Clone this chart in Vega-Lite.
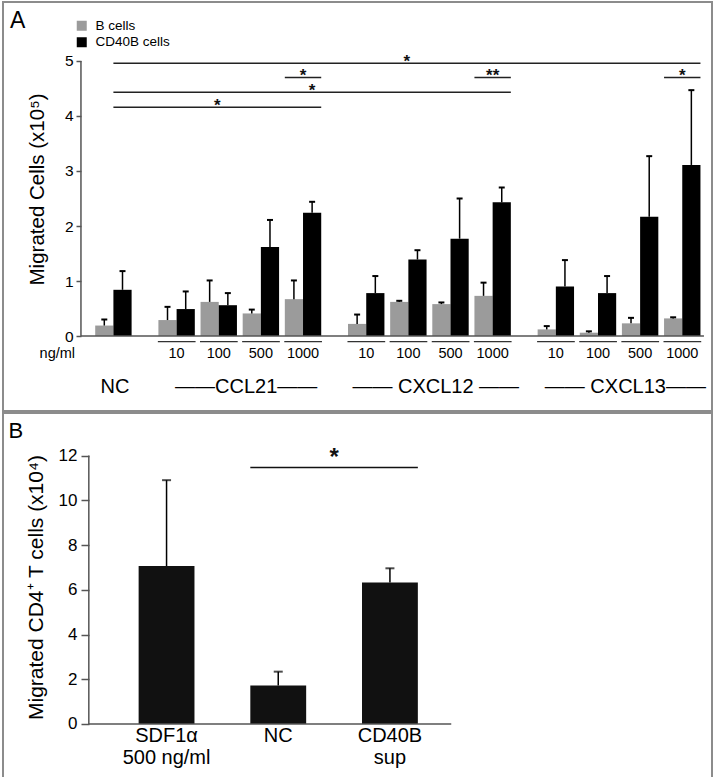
{
  "$schema": "https://vega.github.io/schema/vega-lite/v6.json",
  "background": "white",
  "padding": {"left": 2, "top": 1, "right": 0, "bottom": 0},
  "spacing": 0,
  "config": {
    "font": "Liberation Sans",
    "view": {"stroke": "#8c8c8c", "strokeWidth": 2},
    "axis": {"labelColor": "#000", "titleColor": "#000", "tickColor": "#555", "tickWidth": 1.5, "titleFontWeight": "normal", "grid": false, "domain": false}
  },
  "datasets": {
    "bars": [
      {"condition": "NC", "cells": "B cells", "mean": 0.19, "upper": 0.30, "conc": ""},
      {"condition": "NC", "cells": "CD40B cells", "mean": 0.84, "upper": 1.18, "conc": ""},
      {"condition": "CCL21 10", "cells": "B cells", "mean": 0.29, "upper": 0.53, "conc": "10"},
      {"condition": "CCL21 10", "cells": "CD40B cells", "mean": 0.49, "upper": 0.81, "conc": "10"},
      {"condition": "CCL21 100", "cells": "B cells", "mean": 0.62, "upper": 1.01, "conc": "100"},
      {"condition": "CCL21 100", "cells": "CD40B cells", "mean": 0.56, "upper": 0.78, "conc": "100"},
      {"condition": "CCL21 500", "cells": "B cells", "mean": 0.41, "upper": 0.48, "conc": "500"},
      {"condition": "CCL21 500", "cells": "CD40B cells", "mean": 1.62, "upper": 2.11, "conc": "500"},
      {"condition": "CCL21 1000", "cells": "B cells", "mean": 0.67, "upper": 1.01, "conc": "1000"},
      {"condition": "CCL21 1000", "cells": "CD40B cells", "mean": 2.24, "upper": 2.44, "conc": "1000"},
      {"condition": "CXCL12 10", "cells": "B cells", "mean": 0.22, "upper": 0.39, "conc": "10"},
      {"condition": "CXCL12 10", "cells": "CD40B cells", "mean": 0.78, "upper": 1.09, "conc": "10"},
      {"condition": "CXCL12 100", "cells": "B cells", "mean": 0.62, "upper": 0.64, "conc": "100"},
      {"condition": "CXCL12 100", "cells": "CD40B cells", "mean": 1.39, "upper": 1.56, "conc": "100"},
      {"condition": "CXCL12 500", "cells": "B cells", "mean": 0.58, "upper": 0.61, "conc": "500"},
      {"condition": "CXCL12 500", "cells": "CD40B cells", "mean": 1.77, "upper": 2.50, "conc": "500"},
      {"condition": "CXCL12 1000", "cells": "B cells", "mean": 0.73, "upper": 0.97, "conc": "1000"},
      {"condition": "CXCL12 1000", "cells": "CD40B cells", "mean": 2.43, "upper": 2.70, "conc": "1000"},
      {"condition": "CXCL13 10", "cells": "B cells", "mean": 0.12, "upper": 0.18, "conc": "10"},
      {"condition": "CXCL13 10", "cells": "CD40B cells", "mean": 0.90, "upper": 1.38, "conc": "10"},
      {"condition": "CXCL13 100", "cells": "B cells", "mean": 0.06, "upper": 0.085, "conc": "100"},
      {"condition": "CXCL13 100", "cells": "CD40B cells", "mean": 0.78, "upper": 1.09, "conc": "100"},
      {"condition": "CXCL13 500", "cells": "B cells", "mean": 0.23, "upper": 0.33, "conc": "500"},
      {"condition": "CXCL13 500", "cells": "CD40B cells", "mean": 2.17, "upper": 3.27, "conc": "500"},
      {"condition": "CXCL13 1000", "cells": "B cells", "mean": 0.32, "upper": 0.34, "conc": "1000"},
      {"condition": "CXCL13 1000", "cells": "CD40B cells", "mean": 3.11, "upper": 4.47, "conc": "1000"}
    ],
    "brackets": [
      {"from": "NC", "to": "CXCL13 1000", "y": 4.96, "label": "*", "mid": "CXCL12 100"},
      {"from": "CCL21 1000", "to": "CCL21 1000", "y": 4.70, "label": "*", "mid": "CCL21 1000"},
      {"from": "NC", "to": "CXCL12 1000", "y": 4.43, "label": "*", "mid": "CCL21 1000"},
      {"from": "NC", "to": "CCL21 1000", "y": 4.16, "label": "*", "mid": "CCL21 100"},
      {"from": "CXCL12 1000", "to": "CXCL12 1000", "y": 4.70, "label": "**", "mid": "CXCL12 1000"},
      {"from": "CXCL13 1000", "to": "CXCL13 1000", "y": 4.70, "label": "*", "mid": "CXCL13 1000"}
    ],
    "groups": [
      {"label": "NC", "at": "NC"},
      {"label": "——CCL21——", "at": "CCL21 500"},
      {"label": "—— CXCL12 ——", "at": "CXCL12 500"},
      {"label": "—— CXCL13——", "at": "CXCL13 500"}
    ],
    "tcells": [
      {"treatment": "SDF1α\n500 ng/ml", "mean": 7.06, "upper": 10.9},
      {"treatment": "NC", "mean": 1.72, "upper": 2.34},
      {"treatment": "CD40B\nsup", "mean": 6.33, "upper": 6.96}
    ],
    "tbracket": [
      {"from": "NC", "to": "CD40B\nsup", "y": 11.47, "label": "*"}
    ]
  },
  "vconcat": [
    {
      "width": 709,
      "height": 409,
      "layer": [
        {
          "data": {"name": "bars"},
          "transform": [{"filter": "datum.cells == 'B cells'"}],
          "mark": {"type": "bar"},
          "encoding": {
            "x": {"field": "condition", "type": "nominal", "axis": null, "bandPosition": -0.364,
                  "scale": {"domain": ["p1", "p2", "p3", "p4", "NC", "s1", "s2", "CCL21 10", "s3", "CCL21 100", "s4", "CCL21 500", "s5", "CCL21 1000", "s6", "s7", "CXCL12 10", "s8", "CXCL12 100", "s9", "CXCL12 500", "s10", "CXCL12 1000", "s11", "s12", "CXCL13 10", "s13", "CXCL13 100", "s14", "CXCL13 500", "s15", "CXCL13 1000"],
                            "paddingInner": 0, "paddingOuter": 0.826, "align": 0.448}},
            "x2": {"field": "condition", "bandPosition": 0.5},
            "y": {"field": "mean", "type": "quantitative",
                  "scale": {"domain": [-1.3636, 6.0727], "nice": false, "zero": false},
                  "axis": {"values": [0, 1, 2, 3, 4, 5], "format": "d", "offset": -78, "tickSize": 5, "labelFontSize": 15.5, "labelPadding": 3,
                           "title": "Migrated Cells (x10⁵)", "titleFontSize": 20.5, "titleBaseline": "alphabetic", "titleX": -38, "titleY": 187}},
            "y2": {"datum": 0},
            "color": {"field": "cells", "type": "nominal",
                      "scale": {"domain": ["B cells", "CD40B cells"], "range": ["#9b9b9b", "#000000"]},
                      "legend": {"orient": "none", "legendX": 72, "legendY": 17, "title": null, "symbolType": "square", "symbolSize": 100,
                                 "labelFontSize": 13.5, "rowPadding": 1.5, "symbolStrokeWidth": 0, "labelOffset": 7, "labelColor": "#000"}}
          }
        },
        {
          "data": {"name": "bars"},
          "transform": [{"filter": "datum.cells == 'CD40B cells'"}],
          "mark": {"type": "bar"},
          "encoding": {
            "x": {"field": "condition", "type": "nominal", "bandPosition": 0.5},
            "x2": {"field": "condition", "bandPosition": 1.364},
            "y": {"field": "mean", "type": "quantitative"},
            "y2": {"datum": 0},
            "color": {"field": "cells", "type": "nominal"}
          }
        },
        {
          "data": {"name": "bars"},
          "transform": [{"filter": "datum.cells == 'B cells'"}],
          "mark": {"type": "rule", "color": "#000", "strokeWidth": 1.5},
          "encoding": {
            "x": {"field": "condition", "type": "nominal", "bandPosition": 0.068},
            "y": {"field": "mean", "type": "quantitative"},
            "y2": {"field": "upper"}
          }
        },
        {
          "data": {"name": "bars"},
          "transform": [{"filter": "datum.cells == 'CD40B cells'"}],
          "mark": {"type": "rule", "color": "#000", "strokeWidth": 1.5},
          "encoding": {
            "x": {"field": "condition", "type": "nominal", "bandPosition": 0.932},
            "y": {"field": "mean", "type": "quantitative"},
            "y2": {"field": "upper"}
          }
        },
        {
          "data": {"name": "bars"},
          "transform": [{"filter": "datum.cells == 'B cells'"}],
          "mark": {"type": "rule", "color": "#000", "strokeWidth": 2},
          "encoding": {
            "x": {"field": "condition", "type": "nominal", "bandPosition": -0.074},
            "x2": {"field": "condition", "bandPosition": 0.21},
            "y": {"field": "upper", "type": "quantitative"}
          }
        },
        {
          "data": {"name": "bars"},
          "transform": [{"filter": "datum.cells == 'CD40B cells'"}],
          "mark": {"type": "rule", "color": "#000", "strokeWidth": 2},
          "encoding": {
            "x": {"field": "condition", "type": "nominal", "bandPosition": 0.79},
            "x2": {"field": "condition", "bandPosition": 1.074},
            "y": {"field": "upper", "type": "quantitative"}
          }
        },
        {
          "data": {"name": "bars"},
          "transform": [{"filter": "datum.cells == 'CD40B cells' && datum.conc != ''"}],
          "mark": {"type": "rule", "color": "#333", "strokeWidth": 1.2},
          "encoding": {
            "x": {"field": "condition", "type": "nominal", "bandPosition": -0.39},
            "x2": {"field": "condition", "bandPosition": 1.4},
            "y": {"datum": -0.104}
          }
        },
        {
          "data": {"name": "bars"},
          "transform": [{"filter": "datum.cells == 'CD40B cells' && datum.conc != ''"}],
          "mark": {"type": "text", "fontSize": 14.5, "baseline": "middle", "color": "#000"},
          "encoding": {
            "x": {"field": "condition", "type": "nominal", "bandPosition": 0.5},
            "y": {"datum": -0.33},
            "text": {"field": "conc"}
          }
        },
        {
          "data": {"values": [{}]},
          "mark": {"type": "text", "fontSize": 14.5, "baseline": "middle", "align": "right", "color": "#000", "text": "ng/ml"},
          "encoding": {
            "x": {"datum": "NC", "bandPosition": -1.32},
            "y": {"datum": -0.33}
          }
        },
        {
          "data": {"values": [{}]},
          "mark": {"type": "text", "fontSize": 23, "baseline": "alphabetic", "align": "left", "color": "#000", "text": "A"},
          "encoding": {
            "x": {"datum": "NC", "bandPosition": -4.41},
            "y": {"datum": 5.6}
          }
        },
        {
          "data": {"name": "groups"},
          "transform": [{"filter": "datum.at == 'NC'"}],
          "mark": {"type": "text", "fontSize": 20, "baseline": "middle", "color": "#000"},
          "encoding": {
            "x": {"field": "at", "type": "nominal", "bandPosition": 0.574},
            "y": {"datum": -0.927},
            "text": {"field": "label"}
          }
        },
        {
          "data": {"name": "groups"},
          "transform": [{"filter": "datum.at != 'NC'"}],
          "mark": {"type": "text", "fontSize": 20, "baseline": "middle", "color": "#000"},
          "encoding": {
            "x": {"field": "at", "type": "nominal", "bandPosition": -0.2},
            "y": {"datum": -0.927},
            "text": {"field": "label"}
          }
        },
        {
          "data": {"values": [{}]},
          "mark": {"type": "rule", "color": "#555", "strokeWidth": 1.5},
          "encoding": {
            "x": {"datum": "NC", "bandPosition": -1.04},
            "y": {"datum": 0},
            "y2": {"datum": 5}
          }
        },
        {
          "data": {"values": [{}]},
          "mark": {"type": "rule", "color": "#555", "strokeWidth": 1.5},
          "encoding": {
            "x": {"datum": "NC", "bandPosition": -1.04},
            "x2": {"datum": "CXCL13 1000", "bandPosition": 1.53},
            "y": {"datum": 0}
          }
        },
        {
          "data": {"name": "brackets"},
          "transform": [{"filter": "datum.from == 'NC'"}],
          "mark": {"type": "rule", "color": "#222", "strokeWidth": 1.5},
          "encoding": {
            "x": {"field": "from", "type": "nominal", "bandPosition": 0.5},
            "x2": {"field": "to", "bandPosition": 1.364},
            "y": {"field": "y", "type": "quantitative"}
          }
        },
        {
          "data": {"name": "brackets"},
          "transform": [{"filter": "datum.from != 'NC'"}],
          "mark": {"type": "rule", "color": "#222", "strokeWidth": 1.5},
          "encoding": {
            "x": {"field": "from", "type": "nominal", "bandPosition": -0.364},
            "x2": {"field": "to", "bandPosition": 1.364},
            "y": {"field": "y", "type": "quantitative"}
          }
        },
        {
          "data": {"name": "brackets"},
          "transform": [{"filter": "datum.from != 'NC'"}],
          "mark": {"type": "text", "fontSize": 17, "fontWeight": "bold", "baseline": "alphabetic", "dy": 4, "color": "#111"},
          "encoding": {
            "x": {"field": "mid", "type": "nominal", "bandPosition": 0.5},
            "y": {"field": "y", "type": "quantitative"},
            "text": {"field": "label"}
          }
        },
        {
          "data": {"name": "brackets"},
          "transform": [{"filter": "datum.from == 'NC' && datum.to != 'CXCL12 1000'"}],
          "mark": {"type": "text", "fontSize": 17, "fontWeight": "bold", "baseline": "alphabetic", "dy": 4, "color": "#111"},
          "encoding": {
            "x": {"field": "mid", "type": "nominal", "bandPosition": 0.432},
            "y": {"field": "y", "type": "quantitative"},
            "text": {"field": "label"}
          }
        },
        {
          "data": {"name": "brackets"},
          "transform": [{"filter": "datum.from == 'NC' && datum.to == 'CXCL12 1000'"}],
          "mark": {"type": "text", "fontSize": 17, "fontWeight": "bold", "baseline": "alphabetic", "dy": 4, "color": "#111"},
          "encoding": {
            "x": {"field": "mid", "type": "nominal", "bandPosition": 0.932},
            "y": {"field": "y", "type": "quantitative"},
            "text": {"field": "label"}
          }
        }
      ]
    },
    {
      "width": 709,
      "height": 366,
      "layer": [
        {
          "data": {"name": "tcells"},
          "mark": {"type": "bar", "color": "#111"},
          "encoding": {
            "x": {"field": "treatment", "type": "nominal", "axis": null,
                  "scale": {"domain": ["padL", "SDF1α\n500 ng/ml", "NC", "CD40B\nsup", "padR"], "paddingInner": 0.5, "paddingOuter": 0.924, "align": 0.116}},
            "y": {"field": "mean", "type": "quantitative",
                  "scale": {"domain": [-2.459, 13.903], "nice": false, "zero": false},
                  "axis": {"values": [0, 2, 4, 6, 8, 10, 12], "format": "d", "offset": -86, "tickSize": 8, "labelFontSize": 17, "labelPadding": 4,
                           "title": "Migrated CD4⁺ T cells (x10⁴)", "titleFontSize": 21, "titleBaseline": "alphabetic", "titleX": -47, "titleY": 174}}
          }
        },
        {
          "data": {"name": "tcells"},
          "mark": {"type": "rule", "color": "#000", "strokeWidth": 1.5},
          "encoding": {
            "x": {"field": "treatment", "type": "nominal"},
            "y": {"field": "mean", "type": "quantitative"},
            "y2": {"field": "upper"}
          }
        },
        {
          "data": {"name": "tcells"},
          "mark": {"type": "tick", "color": "#000", "thickness": 2},
          "encoding": {
            "x": {"field": "treatment", "type": "nominal"},
            "y": {"field": "upper", "type": "quantitative"},
            "size": {"value": 9}
          }
        },
        {
          "data": {"name": "tcells"},
          "mark": {"type": "text", "fontSize": 20, "baseline": "top", "lineBreak": "\n", "lineHeight": 22, "color": "#000"},
          "encoding": {
            "x": {"field": "treatment", "type": "nominal"},
            "y": {"datum": -0.1},
            "text": {"field": "treatment"}
          }
        },
        {
          "data": {"values": [{}]},
          "mark": {"type": "text", "fontSize": 22, "baseline": "alphabetic", "align": "left", "color": "#000", "text": "B"},
          "encoding": {
            "x": {"datum": "SDF1α\n500 ng/ml", "bandPosition": -2.33},
            "y": {"datum": 12.785}
          }
        },
        {
          "data": {"values": [{}]},
          "mark": {"type": "rule", "color": "#555", "strokeWidth": 1.5},
          "encoding": {
            "x": {"datum": "SDF1α\n500 ng/ml", "bandPosition": -0.892},
            "y": {"datum": 0},
            "y2": {"datum": 12}
          }
        },
        {
          "data": {"values": [{}]},
          "mark": {"type": "rule", "color": "#555", "strokeWidth": 1.5},
          "encoding": {
            "x": {"datum": "SDF1α\n500 ng/ml", "bandPosition": -0.892},
            "x2": {"datum": "CD40B\nsup", "bandPosition": 1.598},
            "y": {"datum": 0}
          }
        },
        {
          "data": {"name": "tbracket"},
          "mark": {"type": "rule", "color": "#111", "strokeWidth": 1.5},
          "encoding": {
            "x": {"field": "from", "type": "nominal", "bandPosition": 0},
            "x2": {"field": "to", "bandPosition": 1},
            "y": {"field": "y", "type": "quantitative"}
          }
        },
        {
          "data": {"name": "tbracket"},
          "mark": {"type": "text", "fontSize": 24, "fontWeight": "bold", "baseline": "alphabetic", "dy": -2, "color": "#111"},
          "encoding": {
            "x": {"field": "from", "type": "nominal", "bandPosition": 1.5},
            "y": {"field": "y", "type": "quantitative"},
            "text": {"field": "label"}
          }
        }
      ]
    }
  ]
}
